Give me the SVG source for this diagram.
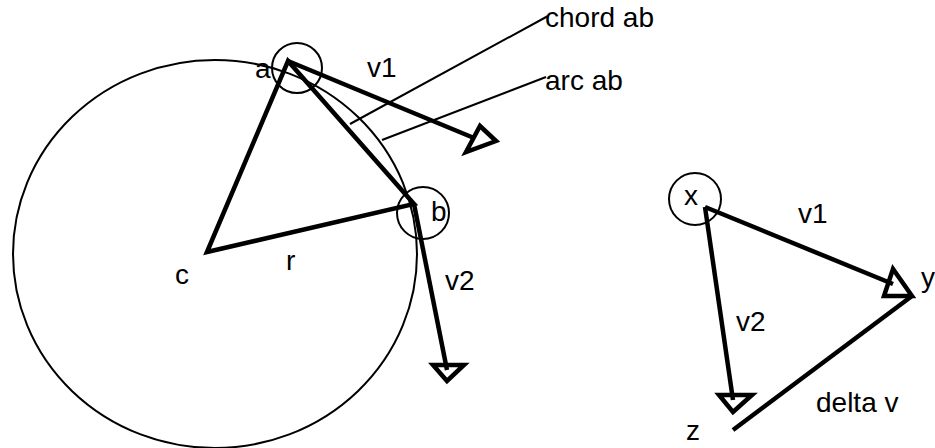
<svg xmlns="http://www.w3.org/2000/svg" width="935" height="448" viewBox="0 0 935 448">
<style>
text{font-family:"Liberation Sans",Arial,sans-serif;font-size:28px;fill:#000}
.thin{fill:none;stroke:#000;stroke-width:2}
.thick{fill:none;stroke:#000;stroke-width:4.5;stroke-linejoin:miter}
.head{fill:none;stroke:#000;stroke-width:4.5;stroke-linejoin:miter}
</style>
<rect width="935" height="448" fill="#fff"/>
<g id="circle">
<ellipse class="thin" cx="215" cy="254" rx="202" ry="194"/>
</g>
<g id="markers">
<circle class="thin" cx="297" cy="68" r="25"/>
<circle class="thin" cx="423" cy="213" r="26"/>
<circle class="thin" cx="695" cy="199" r="26"/>
</g>
<g id="connectors">
<path class="thick" d="M207,252 L288,61 L414,204 Z"/>
<line class="thick" x1="288" y1="61" x2="474" y2="138"/>
<polygon class="head" points="480,126 496,141 466,152"/>
<line class="thick" x1="414" y1="204" x2="447" y2="370"/>
<polygon class="head" points="433,365 464,365 447,381"/>
<line class="thin" x1="350" y1="124" x2="548" y2="16"/>
<line class="thin" x1="382" y1="140" x2="546" y2="77"/>
<line class="thick" x1="705" y1="207" x2="893" y2="284"/>
<polygon class="head" points="893,269 884,296 912,296"/>
<line class="thick" x1="705" y1="207" x2="733" y2="400"/>
<polygon class="head" points="719,395 752,395 733,412"/>
<line class="thick" x1="912" y1="296" x2="733" y2="430"/>
</g>
<g id="labels">
<text x="545" y="27">chord ab</text>
<text x="545" y="90">arc ab</text>
<text x="367" y="77">v1</text>
<text x="255" y="78">a</text>
<text x="431" y="221">b</text>
<text x="175" y="284">c</text>
<text x="286" y="270">r</text>
<text x="445" y="290">v2</text>
<text x="684" y="205">x</text>
<text x="798" y="223">v1</text>
<text x="921" y="287">y</text>
<text x="736" y="331">v2</text>
<text x="816" y="412">delta v</text>
<text x="686" y="440">z</text>
</g>
</svg>
